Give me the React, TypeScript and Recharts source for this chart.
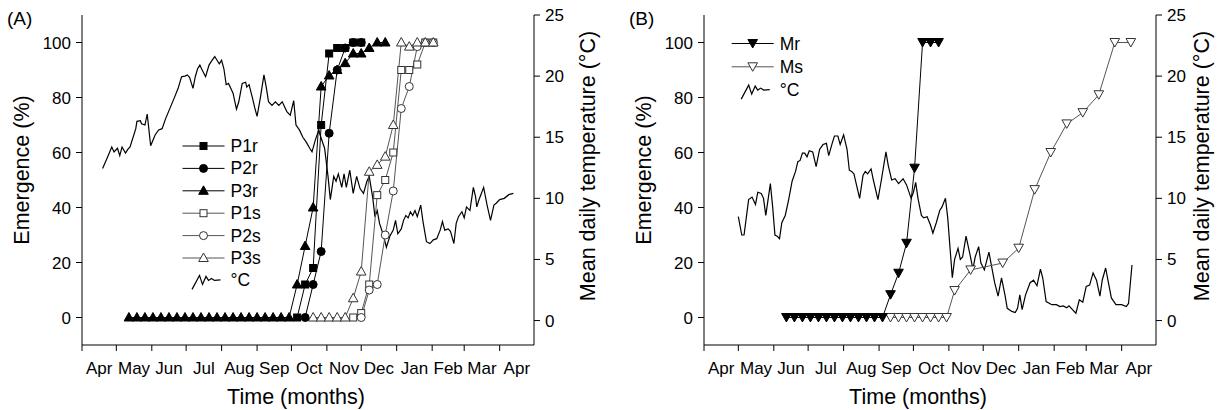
import React from 'react';
import { ComposedChart, Line, XAxis, YAxis } from 'recharts';

const FONT = '"Liberation Sans", Arial, Helvetica, sans-serif';

// time axis: days counted from 1 April
const MONTH_STARTS = [0, 30, 61, 91, 122, 153, 183, 214, 244, 275, 306, 334, 365];
const MONTH_LABELS = ['Apr', 'May', 'Jun', 'Jul', 'Aug', 'Sep', 'Oct', 'Nov', 'Dec', 'Jan', 'Feb', 'Mar', 'Apr'];
const X_MAX = 395;
const PLOT_W = 452;
const PX_PER_DAY = PLOT_W / X_MAX;

const EMERGENCE_TICKS = [0, 20, 40, 60, 80, 100];
const TEMP_TICKS = [0, 5, 10, 15, 20, 25];

// ---- panel A: weekly emergence counts ----
const sampleDaysA = [41, 48, 55, 62, 69, 76, 83, 90, 97, 104, 111, 118, 125, 132, 139, 146, 153, 160, 167, 174, 181,
  188, 195, 202, 209, 216, 223, 230, 237, 244, 251, 258, 265, 272, 279, 286, 293, 300, 307];

const _ = null;
const p3r = [0, 0, 0, 0, 0, 0, 0, 0, 0, 0, 0, 0, 0, 0, 0, 0, 0, 0, 0, 0, 0,
  12, 26, 40, 84, 88, 90, 92.5, 96, 96, 98, 100, 100, _, _, _, _, _, _];
const p1r = [_, _, _, _, _, _, _, _, _, _, _, _, _, _, _, _, _, _, _, _, _,
  0, 12, 18, 70, 96, 98, 98, 100, 100, _, _, _, _, _, _, _, _, _];
const p2r = [_, _, _, _, _, _, _, _, _, _, _, _, _, _, _, _, _, _, _, _, _,
  _, 0, 12, 24, 67, 90, 98, 100, 100, _, _, _, _, _, _, _, _, _];
const p3s = [_, _, _, _, _, _, _, _, _, _, _, _, _, _, _, _, _, _, _, _, _,
  _, _, 0, 0, 0, 0, 0, 7, 16.7, 53, 55.5, 58.5, 70, 100, 98.5, 100, 100, 100];
const p1s = [_, _, _, _, _, _, _, _, _, _, _, _, _, _, _, _, _, _, _, _, _,
  _, _, _, _, _, _, _, 0, 1.6, 12, 44.5, 50, 60, 90, 90, 92, 100, 100];
const p2s = [_, _, _, _, _, _, _, _, _, _, _, _, _, _, _, _, _, _, _, _, _,
  _, _, _, _, _, _, _, _, 0, 10, 12, 30, 46, 76, 84, 98.5, 100, 100];

// mean daily temperature, panel A  [day, °C]
const tempA: [number, number][] = [
  [18, 12.45], [22, 13.3], [26, 14.2], [28, 13.8], [31, 14.1], [33, 13.5], [35, 14.2], [38, 13.7], [40, 14.0],
  [42, 14.2], [47, 15.7], [48, 16.3], [51, 16.35], [52, 16.1], [55, 16.0], [57, 16.9], [60, 14.3], [64, 15.2],
  [67, 15.6], [70, 15.7], [73, 16.5], [77, 17.4], [81, 18.3], [84, 19.0], [87, 19.95], [90, 20.0], [92, 20.1],
  [94, 19.9], [97, 19.0], [99, 19.95], [101, 20.6], [103, 20.9], [105, 20.5], [108, 19.95], [111, 20.9],
  [113, 21.2], [116, 21.6], [118, 21.3], [120, 21.0], [122, 21.3], [124, 20.6], [126, 19.3], [128, 19.4],
  [130, 19.0], [132, 18.6], [135, 17.3], [137, 17.9], [140, 19.4], [143, 19.5], [144, 19.1], [146, 19.3],
  [149, 18.2], [151, 17.4], [153, 16.7], [156, 18.3], [159, 20.1], [161, 19.1], [163, 17.9], [166, 17.6],
  [169, 17.9], [172, 17.6], [175, 17.9], [177, 17.5], [179, 17.1], [182, 16.8], [185, 18.0], [187, 16.0],
  [190, 15.6], [193, 15.0], [196, 14.6], [199, 14.1], [201, 13.8], [204, 14.8], [207, 15.6], [208, 15.2],
  [212, 14.1], [215, 11.8], [217, 9.9], [220, 11.8], [222, 11.4], [224, 12.0], [227, 10.9], [229, 12.0],
  [231, 10.9], [234, 12.3], [237, 10.4], [240, 11.8], [243, 10.8], [246, 10.4], [249, 11.4], [251, 11.8],
  [254, 10.1], [256, 8.5], [258, 9.0], [260, 7.95], [263, 7.1], [266, 6.0], [269, 6.9], [272, 7.4], [274, 8.2],
  [276, 7.1], [279, 7.5], [281, 8.2], [283, 8.6], [285, 8.4], [287, 8.9], [289, 8.6], [291, 9.0], [293, 8.5],
  [296, 9.45], [298, 8.1], [301, 6.45], [304, 6.3], [307, 6.6], [310, 6.7], [313, 7.4], [315, 8.1], [317, 7.4],
  [320, 7.5], [322, 7.3], [325, 6.3], [327, 7.95], [329, 8.5], [332, 8.9], [334, 8.4], [336, 9.3], [339, 9.0],
  [342, 10.9], [344, 10.1], [345, 9.3], [347, 9.9], [349, 10.4], [351, 10.9], [354, 9.45], [357, 8.2],
  [360, 9.45], [362, 9.6], [365, 9.9], [369, 10.0], [373, 10.3], [377, 10.4],
];

// ---- panel B ----
const mrDays = [72, 79, 86, 93, 100, 107, 114, 121, 128, 135, 142, 149, 156, 163, 170, 177, 184, 191, 198, 205];
const mr = [0, 0, 0, 0, 0, 0, 0, 0, 0, 0, 0, 0, 0, 8.3, 16.1, 27, 54.3, 100, 100, 100];
const msDays = [163, 170, 177, 184, 191, 198, 205, 212, 219, 233, 261, 275, 289, 303, 317, 331, 345, 359, 373];
const ms = [0, 0, 0, 0, 0, 0, 0, 0, 9.8, 17.3, 19.8, 25.2, 46.5, 60, 70.4, 74.5, 81, 100, 100];

const tempB: [number, number][] = [
  [30, 8.5], [33, 7.0], [35, 7.0], [39, 9.9], [42, 10.1], [45, 9.5], [47, 10.5], [50, 10.4], [52, 10.0],
  [54, 8.6], [58, 11.2], [60, 9.3], [62, 7.0], [64, 6.9], [66, 6.7], [68, 8.0], [71, 8.6], [74, 9.9],
  [77, 11.4], [80, 12.2], [82, 13.0], [84, 13.1], [86, 13.7], [88, 13.7], [90, 13.4], [92, 13.9], [95, 13.8],
  [98, 12.6], [101, 14.0], [104, 14.4], [107, 14.5], [109, 13.5], [112, 14.5], [114, 15.1], [117, 15.1],
  [119, 14.4], [122, 15.2], [125, 14.0], [127, 12.3], [129, 12.2], [131, 12.0], [133, 11.2], [136, 10.0],
  [139, 11.9], [141, 12.2], [143, 12.0], [146, 12.4], [148, 11.5], [152, 9.9], [155, 11.5], [159, 13.8],
  [161, 12.7], [164, 11.5], [167, 11.6], [170, 11.2], [174, 11.6], [177, 11.1], [181, 10.0], [183, 10.5],
  [185, 11.3], [187, 10.0], [190, 8.6], [192, 8.4], [195, 8.5], [198, 7.8], [200, 7.15], [203, 8.0],
  [206, 9.0], [208, 9.3], [211, 10.0], [213, 8.4], [217, 3.5], [219, 5.0], [222, 5.9], [224, 5.0], [226, 5.2],
  [229, 6.9], [232, 5.6], [235, 4.2], [237, 5.2], [240, 6.05], [242, 4.7], [245, 4.15], [249, 5.6],
  [251, 4.6], [254, 3.1], [257, 2.0], [260, 3.5], [263, 2.1], [265, 1.0], [269, 0.75], [272, 0.65],
  [274, 1.0], [276, 2.1], [278, 0.9], [281, 2.1], [285, 3.1], [288, 3.3], [291, 2.85], [294, 4.2], [296, 3.5],
  [299, 1.55], [304, 1.3], [308, 1.3], [311, 1.15], [314, 1.2], [317, 1.05], [319, 1.2], [322, 0.9],
  [325, 0.6], [328, 1.7], [331, 1.5], [334, 2.8], [337, 2.9], [340, 3.9], [343, 3.3], [346, 2.0], [348, 3.3],
  [351, 4.3], [353, 3.3], [356, 1.85], [360, 1.3], [365, 1.3], [369, 1.15], [371, 1.4], [374, 4.55],
];

type Shape = 'square' | 'circle' | 'up' | 'down';
type Pt = { day: number; v: number };

const toPoints = (days: number[], vals: (number | null)[]): Pt[] =>
  days.map((d, i) => ({ day: d, v: vals[i] as number })).filter((p) => p.v !== null && p.v !== undefined);
const pairsToPoints = (pairs: [number, number][]): Pt[] => pairs.map(([d, v]) => ({ day: d, v }));

function Marker({ cx, cy, shape, filled }: { cx: number; cy: number; shape: Shape; filled: boolean }) {
  const fill = filled ? '#000' : '#fff';
  const stroke = filled ? '#000' : '#333';
  if (shape === 'square') return <rect x={cx - 3.5} y={cy - 3.5} width={7} height={7} fill={fill} stroke={stroke} strokeWidth={1} />;
  if (shape === 'circle') return <circle cx={cx} cy={cy} r={4} fill={fill} stroke={stroke} strokeWidth={1} />;
  if (shape === 'up')
    return <path d={`M${cx},${cy - 5}L${cx + 4.8},${cy + 3.5}L${cx - 4.8},${cy + 3.5}Z`} fill={fill} stroke={stroke} strokeWidth={1} />;
  return <path d={`M${cx - 4.8},${cy - 4}L${cx + 4.8},${cy - 4}L${cx},${cy + 4.5}Z`} fill={fill} stroke={stroke} strokeWidth={1} />;
}

const dotFor = (shape: Shape, filled: boolean) => (props: any) => {
  const { cx, cy, index } = props;
  if (cx == null || cy == null) return <g key={`e${index}`} />;
  return (
    <g key={`d${index}`}>
      <Marker cx={cx} cy={cy} shape={shape} filled={filled} />
    </g>
  );
};

function MonthTick(props: any) {
  const { x, y, payload } = props;
  const i = MONTH_STARTS.indexOf(payload.value);
  const next = i < MONTH_STARTS.length - 1 ? MONTH_STARTS[i + 1] : X_MAX;
  const cx = x + ((next - payload.value) / 2) * PX_PER_DAY;
  return (
    <text x={cx} y={y + 21} textAnchor="middle" fontSize={17} fill="#000">
      {MONTH_LABELS[i]}
    </text>
  );
}

interface SeriesDef {
  name: string;
  data: Pt[];
  shape: Shape;
  filled: boolean;
}

const LINE_DARK = '#000';
const LINE_GREY = '#555';

const seriesA: SeriesDef[] = [
  { name: 'P1s', data: toPoints(sampleDaysA, p1s), shape: 'square', filled: false },
  { name: 'P2s', data: toPoints(sampleDaysA, p2s), shape: 'circle', filled: false },
  { name: 'P3s', data: toPoints(sampleDaysA, p3s), shape: 'up', filled: false },
  { name: 'P3r', data: toPoints(sampleDaysA, p3r), shape: 'up', filled: true },
  { name: 'P2r', data: toPoints(sampleDaysA, p2r), shape: 'circle', filled: true },
  { name: 'P1r', data: toPoints(sampleDaysA, p1r), shape: 'square', filled: true },
];
const seriesB: SeriesDef[] = [
  { name: 'Ms', data: toPoints(msDays, ms), shape: 'down', filled: false },
  { name: 'Mr', data: toPoints(mrDays, mr), shape: 'down', filled: true },
];

const legendA = [
  { label: 'P1r', shape: 'square' as Shape, filled: true },
  { label: 'P2r', shape: 'circle' as Shape, filled: true },
  { label: 'P3r', shape: 'up' as Shape, filled: true },
  { label: 'P1s', shape: 'square' as Shape, filled: false },
  { label: 'P2s', shape: 'circle' as Shape, filled: false },
  { label: 'P3s', shape: 'up' as Shape, filled: false },
];
const legendB = [
  { label: 'Mr', shape: 'down' as Shape, filled: true },
  { label: 'Ms', shape: 'down' as Shape, filled: false },
];

function Squiggle({ cx, cy }: { cx: number; cy: number }) {
  const pts = [[-11.5, 9], [-4, -5], [-1, 4], [2.5, -4], [5, 0], [8, -2], [11, 0], [17, -0.5]];
  return <polyline points={pts.map(([dx, dy]) => `${cx + dx},${cy + dy}`).join(' ')} fill="none" stroke="#000" strokeWidth={1.2} />;
}

function Decor(props: {
  width: number;
  letter: string;
  legend: { label: string; shape: Shape; filled: boolean }[];
  legendX: number;
  legendY: number;
  legendStep: number;
  rightTitleX: number;
}) {
  const { width, letter, legend, legendX, legendY, legendStep, rightTitleX } = props;
  const rows = [...legend.map((l) => l), { label: '°C', shape: null as any, filled: true }];
  return (
    <svg width={width} height={410} style={{ position: 'absolute', left: 0, top: 0, pointerEvents: 'none' }}>
      <text x={7} y={25} fontSize={19} fill="#000">{letter}</text>
      {rows.map((r, i) => {
        const y = legendY + i * legendStep;
        return (
          <g key={r.label}>
            {r.shape ? (
              <>
                <line x1={legendX - 21} x2={legendX + 21} y1={y} y2={y} stroke={r.filled ? LINE_DARK : LINE_GREY} strokeWidth={1} />
                <Marker cx={legendX} cy={y} shape={r.shape} filled={r.filled} />
              </>
            ) : (
              <Squiggle cx={legendX} cy={y} />
            )}
            <text x={legendX + 27} y={y + 6} fontSize={17.5} fill="#000">{r.label}</text>
          </g>
        );
      })}
      <text x={29} y={170} transform="rotate(-90 29 170)" textAnchor="middle" fontSize={21.5} fill="#000">
        Emergence (%)
      </text>
      <text x={rightTitleX} y={166} transform={`rotate(-90 ${rightTitleX} 166)`} textAnchor="middle" fontSize={21.5} fill="#000">
        Mean daily temperature (°C)
      </text>
      <text x={296} y={404} textAnchor="middle" fontSize={21.5} fill="#000">
        Time (months)
      </text>
    </svg>
  );
}

function Panel(props: {
  left: number;
  width: number;
  rightWidth: number;
  series: SeriesDef[];
  temp: Pt[];
  children?: React.ReactNode;
}) {
  const { left, width, rightWidth, series, temp, children } = props;
  return (
    <div style={{ position: 'absolute', left, top: 0, width, height: 410 }}>
      <ComposedChart width={width} height={410} margin={{ top: 15, right: 0, bottom: 0, left: 0 }}>
        <XAxis
          dataKey="day"
          type="number"
          domain={[0, X_MAX]}
          allowDataOverflow
          ticks={MONTH_STARTS}
          interval={0}
          tick={MonthTick}
          height={65}
          axisLine={{ stroke: '#000' }}
          tickLine={{ stroke: '#000' }}
        />
        <YAxis
          yAxisId="left"
          orientation="left"
          width={82}
          domain={[-10, 110]}
          ticks={EMERGENCE_TICKS}
          interval={0}
          tickMargin={5}
          tick={{ fill: '#000', fontSize: 17 }}
          axisLine={{ stroke: '#000' }}
          tickLine={{ stroke: '#000' }}
        />
        <YAxis
          yAxisId="right"
          orientation="right"
          width={rightWidth}
          domain={[-2, 25]}
          ticks={TEMP_TICKS}
          interval={0}
          tickMargin={5}
          tick={{ fill: '#000', fontSize: 17 }}
          axisLine={{ stroke: '#000' }}
          tickLine={{ stroke: '#000' }}
        />
        <Line
          data={temp}
          dataKey="v"
          yAxisId="right"
          type="linear"
          stroke="#000"
          strokeWidth={1.2}
          dot={false}
          isAnimationActive={false}
        />
        {series.map((s) => (
          <Line
            key={s.name}
            data={s.data}
            dataKey="v"
            name={s.name}
            yAxisId="left"
            type="linear"
            stroke={s.filled ? LINE_DARK : LINE_GREY}
            strokeWidth={1}
            dot={dotFor(s.shape, s.filled)}
            isAnimationActive={false}
          />
        ))}
      </ComposedChart>
      {children}
    </div>
  );
}

export default function App() {
  return (
    <div
      style={{
        position: 'absolute',
        left: 0,
        top: 0,
        width: 1224,
        height: 410,
        overflow: 'hidden',
        background: '#fff',
        fontFamily: FONT,
      }}
    >
      <Panel left={0} width={612} rightWidth={78} series={seriesA} temp={pairsToPoints(tempA)}>
        <Decor width={612} letter="(A)" legend={legendA} legendX={203.5} legendY={146} legendStep={22.4} rightTitleX={595} />
      </Panel>
      <Panel left={622} width={602} rightWidth={68} series={seriesB} temp={pairsToPoints(tempB)}>
        <Decor width={602} letter="(B)" legend={legendB} legendX={130.7} legendY={43.5} legendStep={23.3} rightTitleX={587} />
      </Panel>
    </div>
  );
}
